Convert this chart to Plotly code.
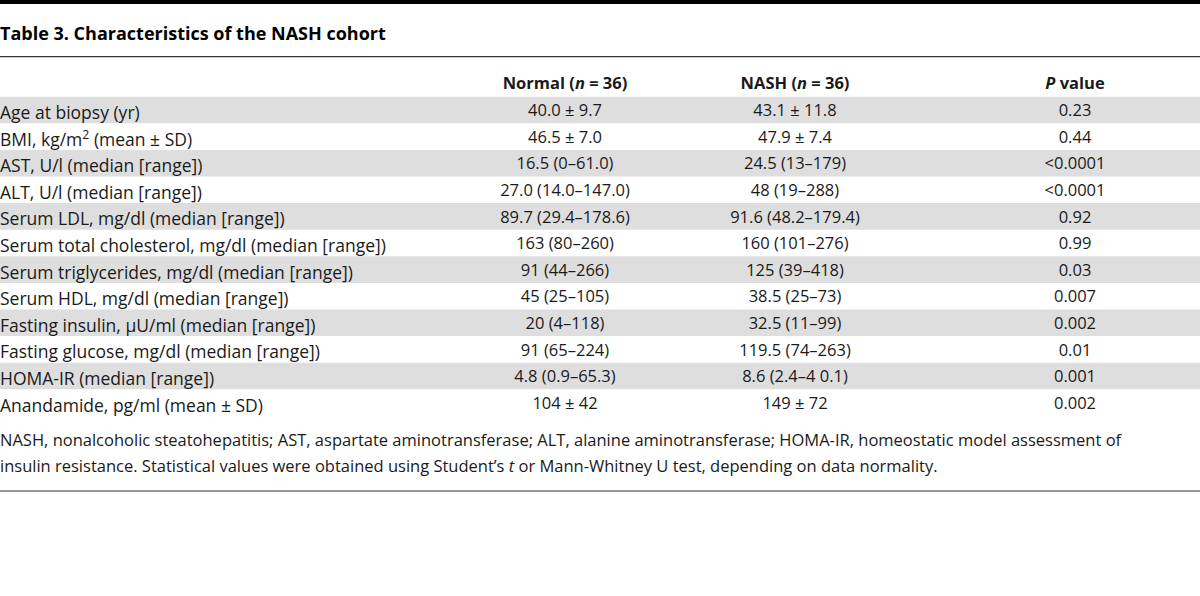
import plotly.graph_objects as go

title = "Table 3. Characteristics of the NASH cohort"
headers = ["Normal (<i>n</i> = 36)", "NASH (<i>n</i> = 36)", "<i>P</i> value"]
row_labels = [
    "Age at biopsy (yr)",
    "BMI, kg/m<sup>2</sup> (mean ± SD)",
    "AST, U/l (median [range])",
    "ALT, U/l (median [range])",
    "Serum LDL, mg/dl (median [range])",
    "Serum total cholesterol, mg/dl (median [range])",
    "Serum triglycerides, mg/dl (median [range])",
    "Serum HDL, mg/dl (median [range])",
    "Fasting insulin, μU/ml (median [range])",
    "Fasting glucose, mg/dl (median [range])",
    "HOMA-IR (median [range])",
    "Anandamide, pg/ml (mean ± SD)",
]
normal_vals = ["40.0 ± 9.7", "46.5 ± 7.0", "16.5 (0–61.0)", "27.0 (14.0–147.0)",
               "89.7 (29.4–178.6)", "163 (80–260)", "91 (44–266)", "45 (25–105)",
               "20 (4–118)", "91 (65–224)", "4.8 (0.9–65.3)", "104 ± 42"]
nash_vals = ["43.1 ± 11.8", "47.9 ± 7.4", "24.5 (13–179)", "48 (19–288)",
             "91.6 (48.2–179.4)", "160 (101–276)", "125 (39–418)", "38.5 (25–73)",
             "32.5 (11–99)", "119.5 (74–263)", "8.6 (2.4–4 0.1)", "149 ± 72"]
p_vals = ["0.23", "0.44", "<0.0001", "<0.0001", "0.92", "0.99", "0.03", "0.007",
          "0.002", "0.01", "0.001", "0.002"]
footnotes = [
    "NASH, nonalcoholic steatohepatitis; AST, aspartate aminotransferase; ALT, alanine aminotransferase; HOMA-IR, homeostatic model assessment of",
    "insulin resistance. Statistical values were obtained using Student’s <i>t</i> or Mann-Whitney U test, depending on data normality.",
]

W, H = 1200, 596
FONT = "Open Sans"
FS = 16.5
FS_LBL = 17.5
TXT = "#1a1a1a"
STRIPE = "#dedede"

row_top0 = 96.7
row_h = 26.6
col_x = [565, 795, 1075]
header_y = 84.5
text_dy = 2

n = len(row_labels)
row_y = [row_top0 + row_h * i + row_h / 2 for i in range(n)]
txt_y = [y + text_dy for y in row_y]

fig = go.Figure()

shapes = []
shapes.append(dict(type="rect", xref="x", yref="y", x0=0, x1=W, y0=0, y1=4,
                   fillcolor="#000000", line=dict(width=0), layer="below"))
shapes.append(dict(type="line", xref="x", yref="y", x0=0, x1=W, y0=56.7, y1=56.7,
                   line=dict(color="#333333", width=1.2)))
shapes.append(dict(type="line", xref="x", yref="y", x0=0, x1=W, y0=491, y1=491,
                   line=dict(color="#333333", width=1.2)))
for i in range(0, n, 2):
    shapes.append(dict(type="rect", xref="x", yref="y", x0=0, x1=W,
                       y0=row_top0 + row_h * i, y1=row_top0 + row_h * (i + 1),
                       fillcolor=STRIPE, line=dict(width=0), layer="below"))

for cx, vals in zip(col_x, [normal_vals, nash_vals, p_vals]):
    fig.add_trace(go.Scatter(
        x=[cx] * n, y=txt_y, text=vals, mode="text",
        textposition="middle center", cliponaxis=False,
        textfont=dict(family=FONT, size=FS, color=TXT), hoverinfo="skip"))

fig.add_trace(go.Scatter(
    x=col_x, y=[header_y] * 3, text=["<b>" + h + "</b>" for h in headers], mode="text",
    textposition="middle center", cliponaxis=False,
    textfont=dict(family=FONT, size=FS, color=TXT), hoverinfo="skip"))

annotations = [
    dict(x=0, y=33, xref="x", yref="y", text="<b>" + title + "</b>", showarrow=False,
         xanchor="left", yanchor="middle", xshift=-2,
         font=dict(family=FONT, size=18, color="#000000")),
]
for lbl, yy in zip(row_labels, txt_y):
    annotations.append(dict(x=0, y=yy, xref="x", yref="y", text=lbl, showarrow=False,
                            xanchor="left", yanchor="middle", xshift=-2,
                            font=dict(family=FONT, size=FS_LBL, color=TXT)))
for k, ft in enumerate(footnotes):
    annotations.append(dict(x=0, y=439 + 26.5 * k, xref="x", yref="y", text=ft, showarrow=False,
                            xanchor="left", yanchor="middle", xshift=-2,
                            font=dict(family=FONT, size=FS, color=TXT)))

fig.update_layout(
    width=W, height=H,
    margin=dict(l=0, r=0, t=0, b=0),
    paper_bgcolor="white", plot_bgcolor="white",
    showlegend=False,
    shapes=shapes, annotations=annotations,
    xaxis=dict(range=[0, W], visible=False, fixedrange=True),
    yaxis=dict(range=[H, 0], visible=False, fixedrange=True),
)

fig.write_html("out.html", config={"displayModeBar": False},
               post_script="document.body.style.margin='0';document.body.style.overflow='hidden';")
